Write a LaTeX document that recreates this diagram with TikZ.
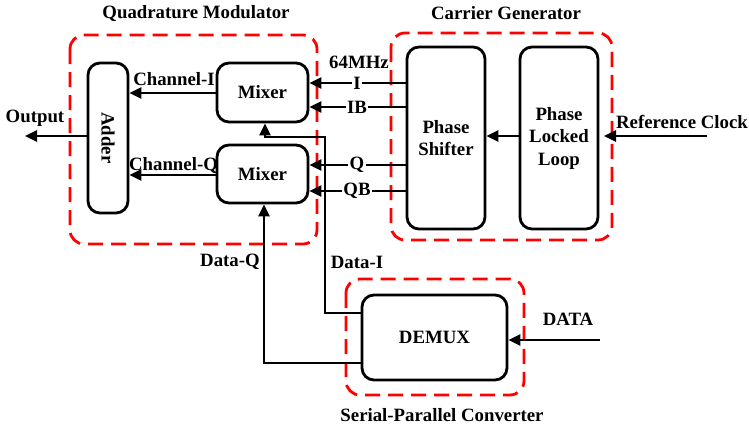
\documentclass[tikz,border=0pt]{standalone}
\usepackage{fontspec}
\setmainfont{Liberation Serif}
\usetikzlibrary{arrows.meta,calc}
\tikzset{
  blk/.style={draw=black, line width=2.8pt, rounded corners=12pt, inner sep=0pt, align=center},
  grp/.style={draw=red, line width=2.8pt, dash pattern=on 15pt off 8pt, rounded corners=14pt},
  arr/.style={line width=2.6pt, -{Triangle[length=12pt,width=11pt]}},
  wire/.style={line width=2.6pt},
  lbl/.style={inner sep=0pt, font=\fontsize{18.8}{22.5}\selectfont\bfseries},
  onwire/.style={lbl, fill=white, inner xsep=1.5pt, inner ysep=0pt},
}
\begin{document}
\begin{tikzpicture}[x=1pt,y=-1pt, font=\fontsize{18.8}{22.5}\selectfont\bfseries]
\useasboundingbox (0,0) rectangle (749,431);

% group outlines
\draw[grp] (70,35) rectangle (317,244);
\draw[grp] (391,33) rectangle (612,240);
\draw[grp] (346,279) rectangle (524,395);

% group titles
\node[lbl] (tqm) at (196,14) {Quadrature Modulator};
\node[lbl] (tcg) at (506,13) {Carrier Generator};
\node[lbl] (tsp) at (442,415) {Serial-Parallel Converter};

% blocks
\node[blk, minimum width=40pt, minimum height=150pt] (adder) at (108,138) {};
\node[lbl, rotate=-90] (addertxt) at (adder.center) {Adder};
\node[blk, minimum width=91pt, minimum height=59pt] (m1) at (262.5,92.5) {Mixer};
\node[blk, minimum width=91pt, minimum height=58pt] (m2) at (262.5,174) {Mixer};
\node[blk, minimum width=78pt, minimum height=182pt] (ps) at (446,138) {Phase\\Shifter};
\node[blk, minimum width=78pt, minimum height=182pt] (pll) at (559,138) {Phase\\Locked\\Loop};
\node[blk, minimum width=145pt, minimum height=85pt] (demux) at (434.5,337.5) {DEMUX};

% free ends
\coordinate (outend) at (25,136);
\coordinate (refend) at (707,136);
\coordinate (dataend) at (600,340);

% mixers to adder
\draw[arr] (m1.west |- 0,93) -- (adder.east |- 0,93);
\node[lbl] (chi) at (174,79) {Channel-I};
\draw[arr] (m2.west |- 0,175) -- (adder.east |- 0,175);
\node[lbl] (chq) at (173.5,165) {Channel-Q};

% output
\draw[arr] (adder.west |- outend) -- (outend);
\node[lbl] (outl) at (35,118) {Output};

% carrier lines from phase shifter to mixers
\draw[arr] (ps.west |- 0,83) -- (m1.east |- 0,83);
\draw[arr] (ps.west |- 0,107) -- (m1.east |- 0,107);
\draw[arr] (ps.west |- 0,165) -- (m2.east |- 0,165);
\draw[arr] (ps.west |- 0,191) -- (m2.east |- 0,191);
\node[onwire] (li) at (357,83) {I};
\node[onwire] (lib) at (357,107) {IB};
\node[onwire] (lq) at (357,165) {Q};
\node[onwire] (lqb) at (357,191) {QB};
\node[lbl] (freq) at (359,62) {64MHz};

% PLL to phase shifter, reference clock
\draw[arr] (pll.west |- 0,136) -- (ps.east |- 0,136);
\draw[arr] (refend) -- (604,136);
\node[lbl] (refl) at (682,122) {Reference Clock};

% data paths
\draw[arr] (demux.west |- 0,313) -- (325,313) -- (325,137) -- (265,137) -- (m1.south -| 265,0);
\node[lbl] (ldi) at (357,262) {Data-I};
\draw[arr] (demux.west |- 0,363) -- (264,363) -- (m2.south -| 264,0);
\node[lbl] (ldq) at (230,262) {Data-Q};

% serial data in
\draw[arr] (dataend) -- (demux.east |- dataend);
\node[lbl] (ldata) at (568,319) {DATA};
\end{tikzpicture}
\end{document}
